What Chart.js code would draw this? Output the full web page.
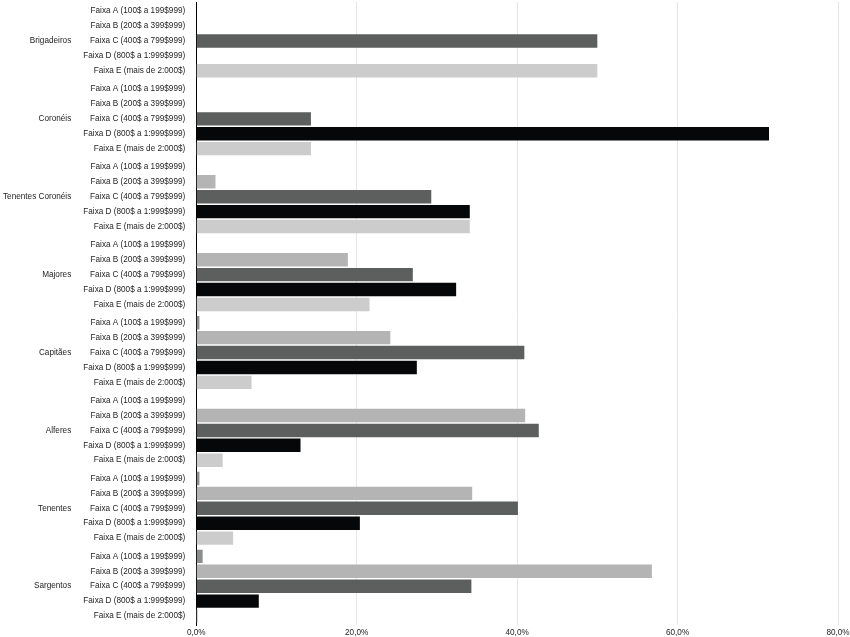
<!DOCTYPE html>
<html>
<head>
<meta charset="utf-8">
<script src="https://cdn.jsdelivr.net/npm/chart.js@4/dist/chart.umd.min.js"></script>
<style>
  html, body { margin: 0; padding: 0; background: #fff; }
  #wrap { width: 850px; height: 637px; }
</style>
</head>
<body>
<div id="wrap"><canvas id="chart"></canvas></div>
<script>
// Rendimento por posto - percentagem por faixa
const groups = ['Brigadeiros', 'Coronéis', 'Tenentes Coronéis', 'Majores', 'Capitães', 'Alferes', 'Tenentes', 'Sargentos'];
const faixas = [
    'Faixa A (100$ a 199$999)',
    'Faixa B (200$ a 399$999)',
    'Faixa C (400$ a 799$999)',
    'Faixa D (800$ a 1:999$999)',
    'Faixa E (mais de 2:000$)'
];
const faixaA = [0, 0, 0, 0, 0.4, 0, 0.4, 0.8];
const faixaB = [0, 0, 2.4, 18.9, 24.2, 41.0, 34.4, 56.8];
const faixaC = [50.0, 14.3, 29.3, 27.0, 40.9, 42.7, 40.1, 34.3];
const faixaD = [0, 71.4, 34.1, 32.4, 27.5, 13.0, 20.4, 7.8];
const faixaE = [50.0, 14.3, 34.1, 21.6, 6.9, 3.3, 4.6, 0.2];
const xTicks = [0, 20, 40, 60, 80];

const colors = ['#8a8d8c', '#b4b4b4', '#5c5f5e', '#060709', '#cccccc'];
const series = [faixaA, faixaB, faixaC, faixaD, faixaE];

const fontSize = 8.2;
const rowPitch = 14.9;

Chart.defaults.font.family = '"Liberation Sans", Arial, Helvetica, sans-serif';
Chart.defaults.font.size = fontSize;
Chart.defaults.color = '#1e1e1e';

// multi-line labels would otherwise push the plot area down
const noVertPad = s => { s.paddingTop = 0; s.paddingBottom = 0; };

new Chart(document.getElementById('chart'), {
    type: 'bar',
    data: {
        labels: groups,
        datasets: series.map((vals, i) => ({
            label: faixas[i],
            data: vals,
            backgroundColor: colors[i],
            borderWidth: 0,
            categoryPercentage: 0.957,
            barPercentage: 0.9
        }))
    },
    options: {
        indexAxis: 'y',
        responsive: true,
        maintainAspectRatio: false,
        animation: false,
        layout: { padding: { left: 3, top: 2, right: 0, bottom: 0 } },
        plugins: { legend: { display: false }, tooltip: { enabled: false } },
        scales: {
            x: {
                min: 0,
                max: 80,
                afterBuildTicks: axis => { axis.ticks = xTicks.map(v => ({ value: v })); },
                afterFit: s => { s.paddingLeft = 0; s.paddingRight = 12; s.height -= 4; },
                ticks: {
                    padding: 3,
                    callback: v => v.toFixed(1).replace('.', ',') + '%'
                },
                grid: { color: '#e6e6e6', drawTicks: false },
                border: { display: false }
            },
            y: {
                weight: 0,
                afterFit: s => { noVertPad(s); s.width -= 9; },
                grid: { display: false, drawTicks: false },
                border: { display: true, color: '#000', width: 1 },
                ticks: {
                    autoSkip: false,
                    padding: 11,
                    font: { size: fontSize, lineHeight: rowPitch / fontSize },
                    callback: () => faixas
                }
            },
            y2: {
                type: 'category',
                position: 'left',
                weight: 1,
                labels: groups,
                offset: true,
                afterFit: s => { noVertPad(s); s.width -= 10; },
                grid: { display: false, drawTicks: false },
                border: { display: false },
                ticks: { autoSkip: false, padding: 10 }
            }
        }
    }
});
</script>
</body>
</html>
